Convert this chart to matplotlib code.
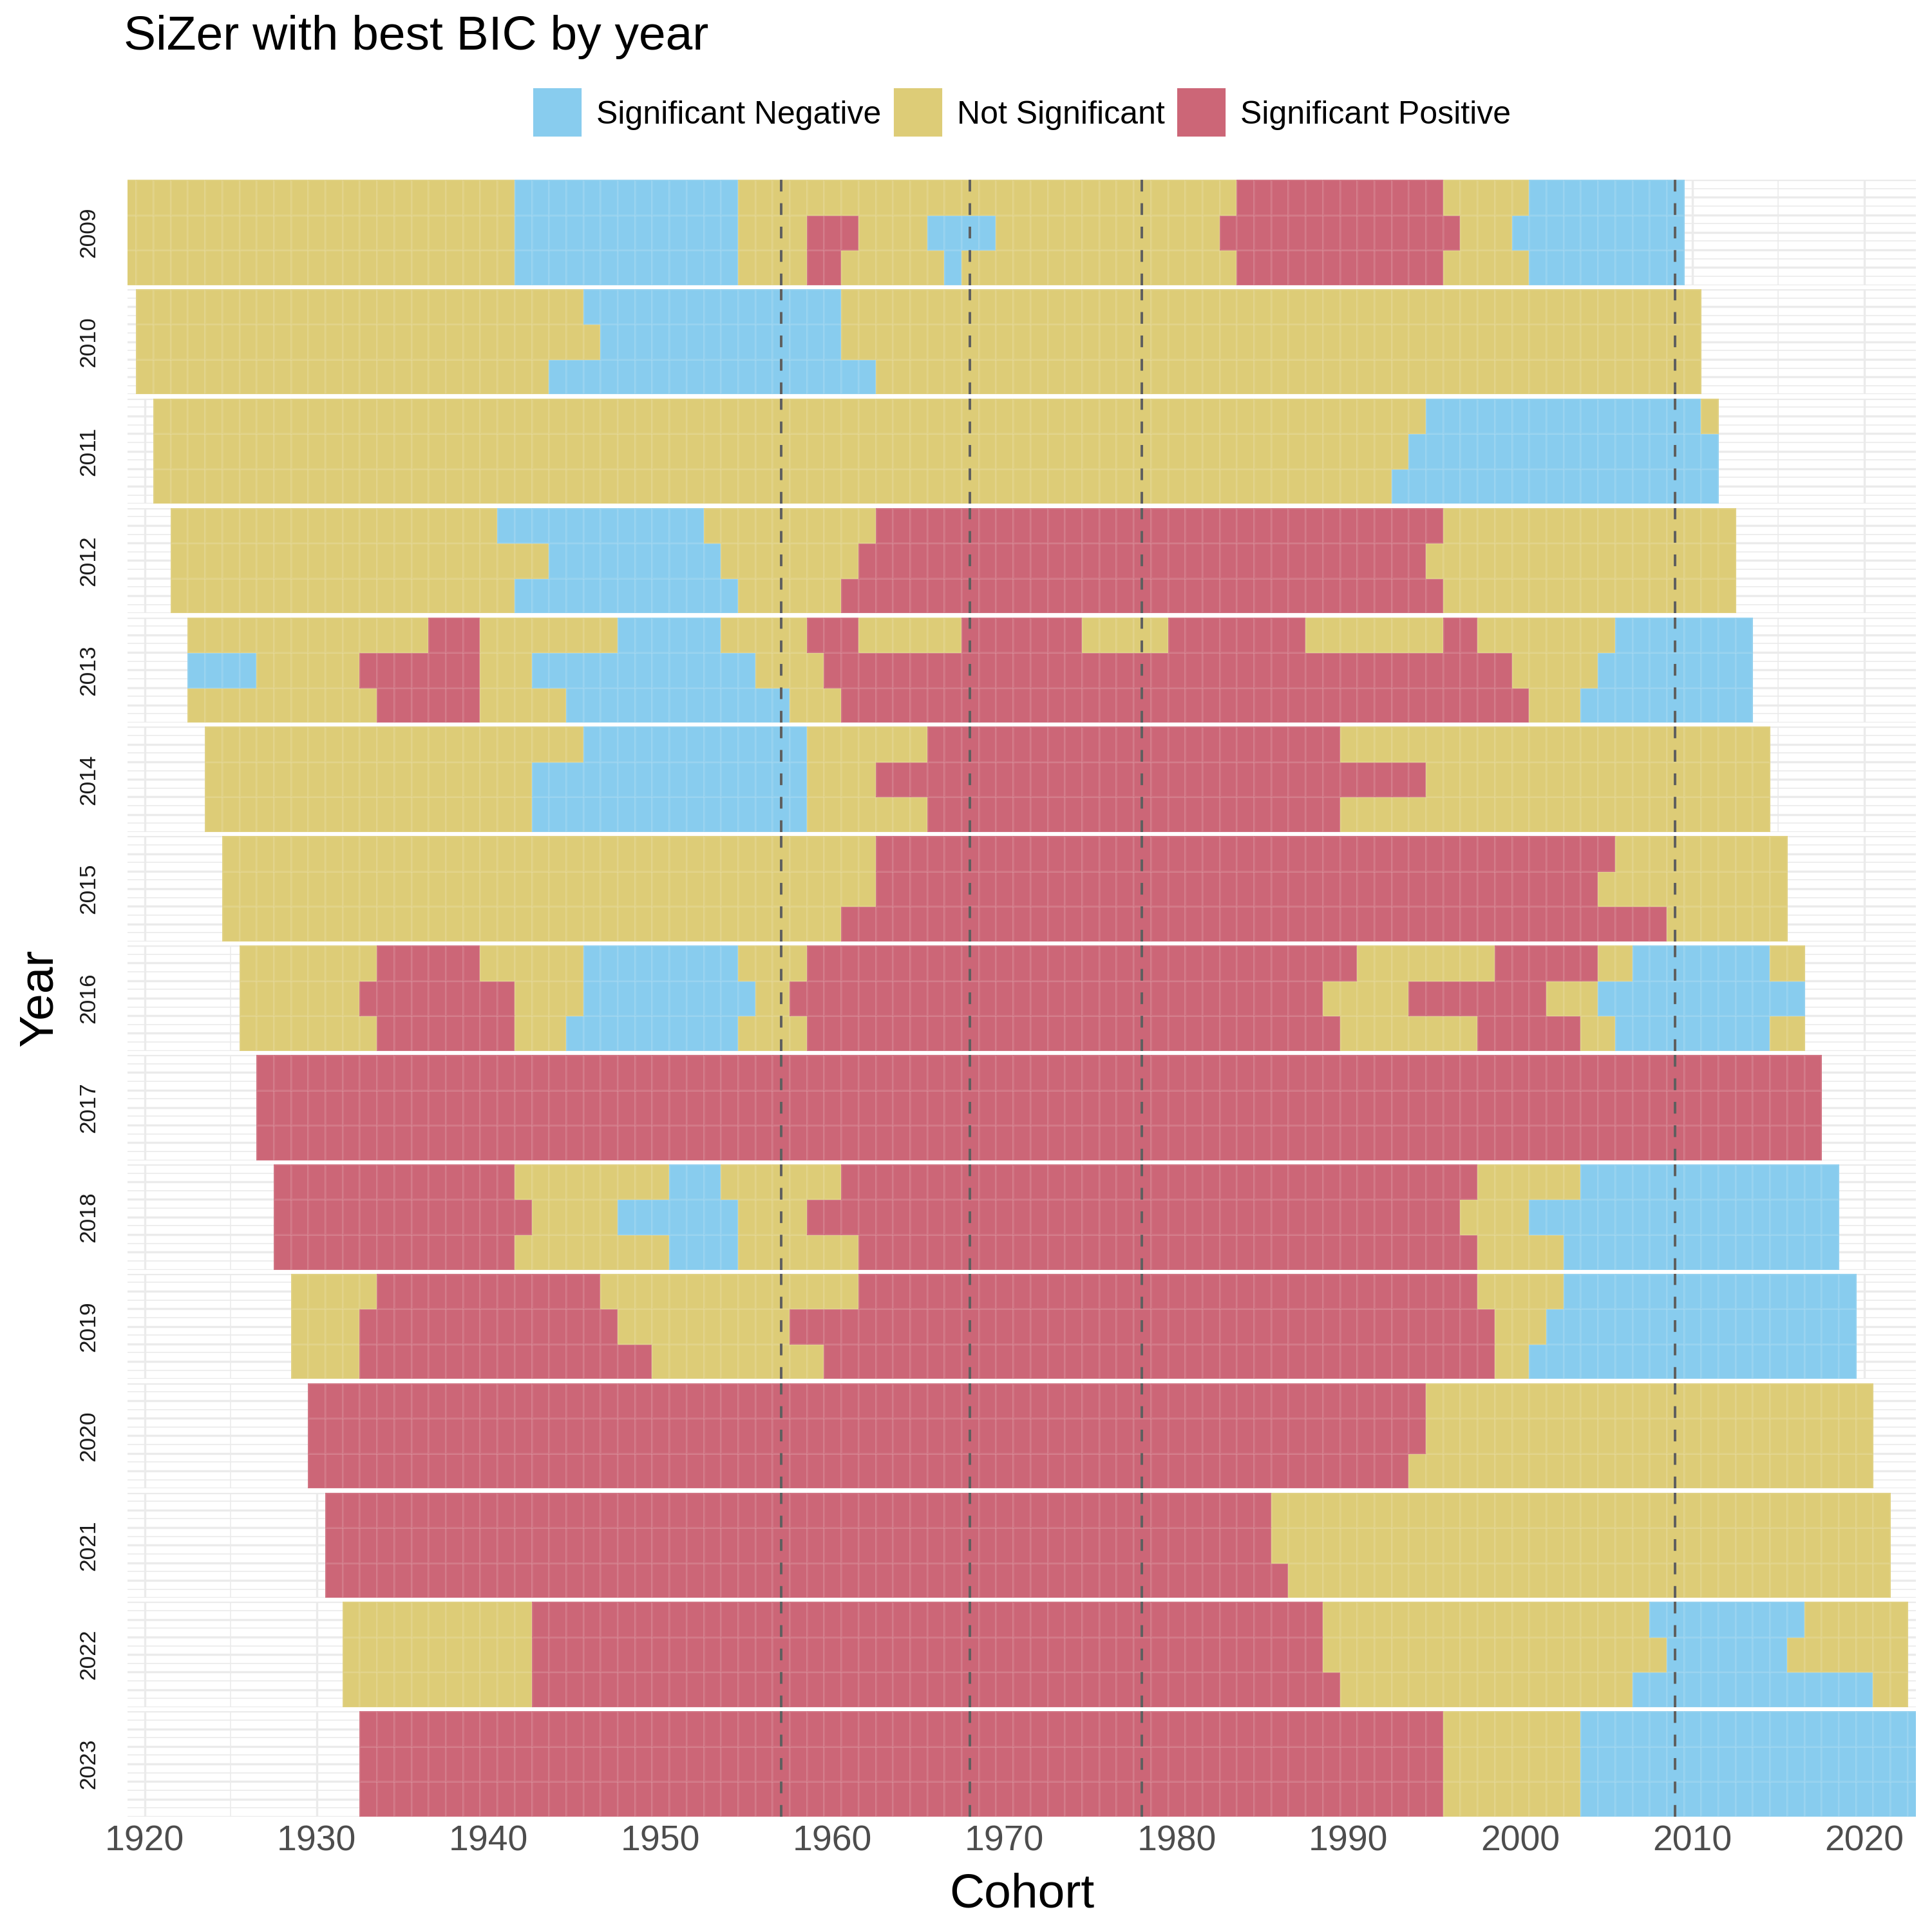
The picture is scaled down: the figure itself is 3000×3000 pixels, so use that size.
import matplotlib
matplotlib.use("Agg")
import matplotlib.pyplot as plt
from matplotlib.colors import ListedColormap
from matplotlib.patches import Rectangle
import numpy as np

plt.rcParams["font.family"] = ["Liberation Sans", "DejaVu Sans"]

# N = significant negative, Z = not significant, P = significant positive
categories = ["Significant Negative", "Not Significant", "Significant Positive"]
cat_codes = ["N", "Z", "P"]
cat_colors = ["#88CCEE", "#DDCC77", "#CC6677"]

years = list(range(2009, 2024))
span = 90  # each year covers cohorts year-90 .. year

# three rows per year (top to bottom), each row is runs of (category, last cohort)
sizer_2009 = [
    [("Z", 1941), ("N", 1954), ("Z", 1983), ("P", 1995), ("Z", 2000), ("N", 2009)],
    [("Z", 1941), ("N", 1954), ("Z", 1958), ("P", 1961), ("Z", 1965), ("N", 1969),
     ("Z", 1982), ("P", 1996), ("Z", 1999), ("N", 2009)],
    [("Z", 1941), ("N", 1954), ("Z", 1958), ("P", 1960), ("Z", 1966), ("N", 1967),
     ("Z", 1983), ("P", 1995), ("Z", 2000), ("N", 2009)],
]
sizer_2010 = [
    [("Z", 1945), ("N", 1960), ("Z", 2010)],
    [("Z", 1946), ("N", 1960), ("Z", 2010)],
    [("Z", 1943), ("N", 1962), ("Z", 2010)],
]
sizer_2011 = [
    [("Z", 1994), ("N", 2010), ("Z", 2011)],
    [("Z", 1993), ("N", 2011)],
    [("Z", 1992), ("N", 2011)],
]
sizer_2012 = [
    [("Z", 1940), ("N", 1952), ("Z", 1962), ("P", 1995), ("Z", 2012)],
    [("Z", 1943), ("N", 1953), ("Z", 1961), ("P", 1994), ("Z", 2012)],
    [("Z", 1941), ("N", 1954), ("Z", 1960), ("P", 1995), ("Z", 2012)],
]
sizer_2013 = [
    [("Z", 1936), ("P", 1939), ("Z", 1947), ("N", 1953), ("Z", 1958), ("P", 1961),
     ("Z", 1967), ("P", 1974), ("Z", 1979), ("P", 1987), ("Z", 1995), ("P", 1997),
     ("Z", 2005), ("N", 2013)],
    [("N", 1926), ("Z", 1932), ("P", 1939), ("Z", 1942), ("N", 1955), ("Z", 1959),
     ("P", 1999), ("Z", 2004), ("N", 2013)],
    [("Z", 1933), ("P", 1939), ("Z", 1944), ("N", 1957), ("Z", 1960), ("P", 2000),
     ("Z", 2003), ("N", 2013)],
]
sizer_2014 = [
    [("Z", 1945), ("N", 1958), ("Z", 1965), ("P", 1989), ("Z", 2014)],
    [("Z", 1942), ("N", 1958), ("Z", 1962), ("P", 1994), ("Z", 2014)],
    [("Z", 1942), ("N", 1958), ("Z", 1965), ("P", 1989), ("Z", 2014)],
]
sizer_2015 = [
    [("Z", 1962), ("P", 2005), ("Z", 2015)],
    [("Z", 1962), ("P", 2004), ("Z", 2015)],
    [("Z", 1960), ("P", 2008), ("Z", 2015)],
]
sizer_2016 = [
    [("Z", 1933), ("P", 1939), ("Z", 1945), ("N", 1954), ("Z", 1958), ("P", 1990),
     ("Z", 1998), ("P", 2004), ("Z", 2006), ("N", 2014), ("Z", 2016)],
    [("Z", 1932), ("P", 1941), ("Z", 1945), ("N", 1955), ("Z", 1957), ("P", 1988),
     ("Z", 1993), ("P", 2001), ("Z", 2004), ("N", 2016)],
    [("Z", 1933), ("P", 1941), ("Z", 1944), ("N", 1954), ("Z", 1958), ("P", 1989),
     ("Z", 1997), ("P", 2003), ("Z", 2005), ("N", 2014), ("Z", 2016)],
]
sizer_2017 = [
    [("P", 2017)],
    [("P", 2017)],
    [("P", 2017)],
]
sizer_2018 = [
    [("P", 1941), ("Z", 1950), ("N", 1953), ("Z", 1960), ("P", 1997), ("Z", 2003), ("N", 2018)],
    [("P", 1942), ("Z", 1947), ("N", 1954), ("Z", 1958), ("P", 1996), ("Z", 2000), ("N", 2018)],
    [("P", 1941), ("Z", 1950), ("N", 1954), ("Z", 1961), ("P", 1997), ("Z", 2002), ("N", 2018)],
]
sizer_2019 = [
    [("Z", 1933), ("P", 1946), ("Z", 1961), ("P", 1997), ("Z", 2002), ("N", 2019)],
    [("Z", 1932), ("P", 1947), ("Z", 1957), ("P", 1998), ("Z", 2001), ("N", 2019)],
    [("Z", 1932), ("P", 1949), ("Z", 1959), ("P", 1998), ("Z", 2000), ("N", 2019)],
]
sizer_2020 = [
    [("P", 1994), ("Z", 2020)],
    [("P", 1994), ("Z", 2020)],
    [("P", 1993), ("Z", 2020)],
]
sizer_2021 = [
    [("P", 1985), ("Z", 2021)],
    [("P", 1985), ("Z", 2021)],
    [("P", 1986), ("Z", 2021)],
]
sizer_2022 = [
    [("Z", 1942), ("P", 1988), ("Z", 2007), ("N", 2016), ("Z", 2022)],
    [("Z", 1942), ("P", 1988), ("Z", 2008), ("N", 2015), ("Z", 2022)],
    [("Z", 1942), ("P", 1989), ("Z", 2006), ("N", 2020), ("Z", 2022)],
]
sizer_2023 = [
    [("P", 1995), ("Z", 2003), ("N", 2023)],
    [("P", 1995), ("Z", 2003), ("N", 2023)],
    [("P", 1995), ("Z", 2003), ("N", 2023)],
]
sizer_rows = {
    2009: sizer_2009, 2010: sizer_2010, 2011: sizer_2011, 2012: sizer_2012,
    2013: sizer_2013, 2014: sizer_2014, 2015: sizer_2015, 2016: sizer_2016,
    2017: sizer_2017, 2018: sizer_2018, 2019: sizer_2019, 2020: sizer_2020,
    2021: sizer_2021, 2022: sizer_2022, 2023: sizer_2023,
}

ref_cohorts = [1957, 1968, 1978, 2009]
x_ticks = list(range(1920, 2021, 10))


def expand(runs, first):
    # turn runs into one category index per cohort
    codes = []
    c = first
    for cat, last in runs:
        codes += [cat_codes.index(cat)] * (last - c + 1)
        c = last + 1
    return codes


fig = plt.figure(figsize=(10, 10), dpi=300)
axes = fig.subplots(len(years), 1, sharex=True,
                    gridspec_kw=dict(left=0.066, right=0.9917, top=0.907,
                                     bottom=0.0597, hspace=0.0385))
cmap = ListedColormap(cat_colors)
grid_col = "#EBEBEB"

for ax, yr in zip(axes, years):
    first = yr - span
    tiles = np.array([expand(r, first) for r in sizer_rows[yr]][::-1])
    x_edges = np.arange(first - 0.5, yr + 1.5)
    ax.pcolormesh(x_edges, [0, 1, 2, 3], tiles, cmap=cmap, vmin=-0.5, vmax=2.5,
                  edgecolors=(1, 1, 1, 0.1), linewidth=0.25, zorder=2)

    # 背景网格
    for k in range(13):
        ax.axhline(k * 0.25, color=grid_col, lw=0.8 if k % 2 == 0 else 0.4, zorder=0)
    for x in range(1915, 2026, 5):
        ax.axvline(x, color=grid_col, lw=0.8 if x % 10 == 0 else 0.4, zorder=0)

    for x in ref_cohorts:
        ax.axvline(x, color="#5F5F5F", lw=0.95, ls=(0, (4.6, 4.6)), zorder=3)

    ax.set_ylim(0, 3)
    ax.set_yticks([])
    for s in ax.spines.values():
        s.set_visible(False)
    ax.tick_params(length=0)
    ax.text(-0.0216, 0.5, str(yr), transform=ax.transAxes, rotation=90,
            ha="center", va="center", fontsize=8.5, color="#1A1A1A")

axes[0].set_xlim(1919, 2023)
axes[-1].set_xticks(x_ticks)
axes[-1].tick_params(axis="x", labelsize=13.3, labelcolor="#4D4D4D", pad=3)

# 标题和坐标轴标题
fig.text(0.064, 1 - 77 / 3000, "SiZer with best BIC by year", fontsize=18,
         ha="left", va="baseline")
fig.text(0.529, 0.013, "Cohort", fontsize=18, ha="center", va="baseline")
fig.text(0.0205, 0.4834, "Year", fontsize=18, rotation=90, ha="center", va="center")

# legend along the top
key_left = [830, 1390, 1830]
for left, lab, col in zip(key_left, categories, cat_colors):
    fig.add_artist(Rectangle((left / 3000, 1 - 210 / 3000), 71 / 3000, 71 / 3000,
                             transform=fig.transFigure, color=col))
    fig.text((left + 96) / 3000, 1 - 192 / 3000, lab, fontsize=12,
             ha="left", va="baseline")

fig.savefig("out.png", dpi=300)
